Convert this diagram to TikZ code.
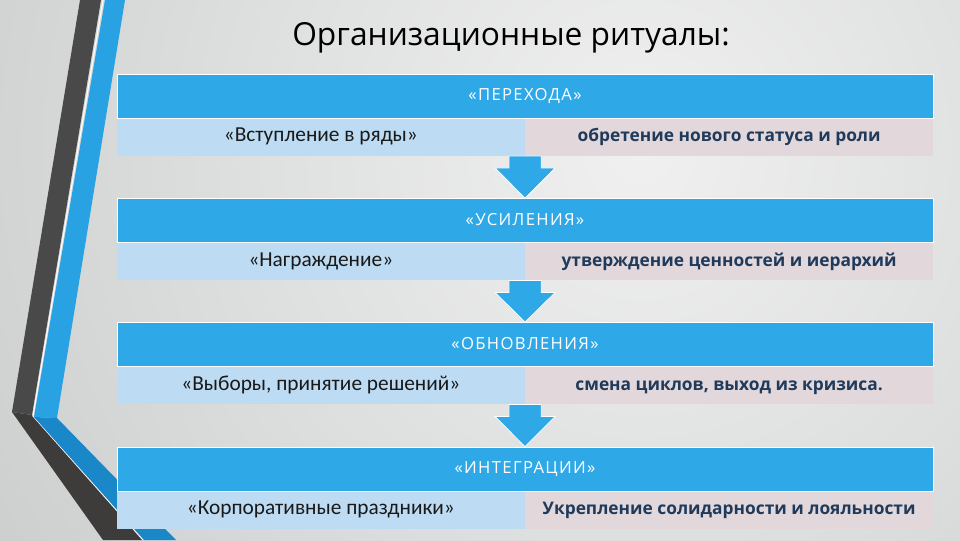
\documentclass[tikz,border=0pt]{standalone}
\usepackage{fontspec}
\setmainfont{Carlito}
\newfontfamily\headfont{Open Sans}
\newfontfamily\capsfont{Open Sans}[LetterSpace=8]
\usetikzlibrary{calc}

\definecolor{hdrblue}{HTML}{2FA8E7}
\definecolor{lightblue}{HTML}{BDDCF3}
\definecolor{lightpink}{HTML}{E2D8DC}
\definecolor{darkband}{HTML}{4A4949}
\definecolor{darklow}{HTML}{3E3B3B}
\definecolor{bandblue}{HTML}{29A2E4}
\definecolor{banddeep}{HTML}{1A87C8}
\definecolor{navytext}{HTML}{1F3A5A}
\definecolor{bgin}{HTML}{F0F0F0}
\definecolor{bgout}{HTML}{BBBEBE}

\tikzset{
  hdr/.style={draw=white, line width=0.6pt, fill=hdrblue, text=white,
    minimum width=612pt, minimum height=33pt, inner sep=0pt,
    text height=9pt, text depth=2pt,
    font=\capsfont\fontsize{12.5}{15}\selectfont},
  lbox/.style={fill=lightblue, text=black!90, minimum width=306pt,
    minimum height=27.75pt, inner sep=0pt, text height=10pt, text depth=3pt,
    font=\fontsize{16}{19}\selectfont},
  rbox/.style={fill=lightpink, text=navytext, minimum width=306pt,
    minimum height=27.75pt, inner sep=0pt, text height=10pt, text depth=3pt,
    font=\headfont\bfseries\fontsize{13}{16}\selectfont},
  ritarrow/.style={fill=hdrblue, draw=white, line width=0.5pt, line join=miter}
}

\begin{document}
\begin{tikzpicture}[x=0.75pt, y=-0.75pt]
    \useasboundingbox (0,0) rectangle (960,540);

    % Фон
    \begin{scope}
        \clip (0,0) rectangle (960,540);
        \shade[inner color=bgin, outer color=bgout] (640,150) circle (1150);
    \end{scope}

    % Ленты слева
    \fill[darkband] (80,0) -- (101,0) -- (32,415) -- (12,412) -- cycle;
    \fill[darklow] (12,412) -- (32,415) -- (143,540) -- (103,540) -- cycle;
    \draw[white, line width=0.8pt] (103,0) -- (33,416) -- (143,540);
    \fill[bandblue] (105,0) -- (125,0) -- (57,418) -- (34,417) -- cycle;
    \fill[banddeep] (34,417) -- (57,418) -- (176,540) -- (144,540) -- cycle;

    % Заголовок
    \node[anchor=base, font=\headfont\fontsize{23.8}{28}\selectfont] (title)
        at (511,45) {Организационные ритуалы:};

    % Ритуалы перехода
    \node[hdr] (hdrA) at (525,96) {«ПЕРЕХОДА»};
    \node[lbox, anchor=north west] (leftA) at (hdrA.south west) {«Вступление в ряды»};
    \node[rbox, anchor=north east] (rightA) at (hdrA.south east) {обретение нового статуса и роли};

    % Ритуалы усиления
    \node[hdr] (hdrB) at (525,220.5) {«УСИЛЕНИЯ»};
    \node[lbox, anchor=north west] (leftB) at (hdrB.south west) {«Награждение»};
    \node[rbox, anchor=north east] (rightB) at (hdrB.south east) {утверждение ценностей и иерархий};

    % Ритуалы обновления
    \node[hdr] (hdrC) at (525,344.5) {«ОБНОВЛЕНИЯ»};
    \node[lbox, anchor=north west] (leftC) at (hdrC.south west) {«Выборы, принятие решений»};
    \node[rbox, anchor=north east] (rightC) at (hdrC.south east) {смена циклов, выход из кризиса.};

    % Ритуалы интеграции
    \node[hdr] (hdrD) at (525,469) {«ИНТЕГРАЦИИ»};
    \node[lbox, anchor=north west] (leftD) at (hdrD.south west) {«Корпоративные праздники»};
    \node[rbox, anchor=north east] (rightD) at (hdrD.south east) {Укрепление солидарности и лояльности};

    % Стрелки между блоками
    \draw[ritarrow] ($(leftA.south east)+(-16,0)$) -- ++(32,0) -- ++(0,12) -- ++(14,0)
        -- (hdrB.north) -- ($(leftA.south east)+(-30,12)$) -- ++(14,0) -- cycle;
    \draw[ritarrow] ($(leftB.south east)+(-16,0)$) -- ++(32,0) -- ++(0,12) -- ++(14,0)
        -- (hdrC.north) -- ($(leftB.south east)+(-30,12)$) -- ++(14,0) -- cycle;
    \draw[ritarrow] ($(leftC.south east)+(-16,0)$) -- ++(32,0) -- ++(0,12) -- ++(14,0)
        -- (hdrD.north) -- ($(leftC.south east)+(-30,12)$) -- ++(14,0) -- cycle;

\end{tikzpicture}
\end{document}
